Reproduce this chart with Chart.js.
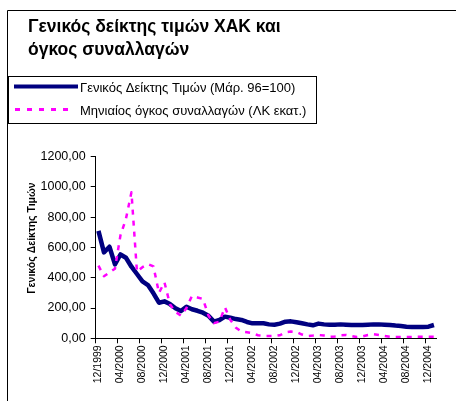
<!DOCTYPE html>
<html>
<head>
<meta charset="utf-8">
<script src="https://cdn.jsdelivr.net/npm/chart.js@4/dist/chart.umd.min.js"></script>
<style>
  body { margin: 0; background: #fff; }
  #chart { display: block; }
</style>
</head>
<body>
<canvas id="chart" width="456" height="401"></canvas>
<script>
const months = [
    '12/1999',
    '01/2000', '02/2000', '03/2000', '04/2000', '05/2000', '06/2000', '07/2000', '08/2000', '09/2000', '10/2000', '11/2000', '12/2000',
    '01/2001', '02/2001', '03/2001', '04/2001', '05/2001', '06/2001', '07/2001', '08/2001', '09/2001', '10/2001', '11/2001', '12/2001',
    '01/2002', '02/2002', '03/2002', '04/2002', '05/2002', '06/2002', '07/2002', '08/2002', '09/2002', '10/2002', '11/2002', '12/2002',
    '01/2003', '02/2003', '03/2003', '04/2003', '05/2003', '06/2003', '07/2003', '08/2003', '09/2003', '10/2003', '11/2003', '12/2003',
    '01/2004', '02/2004', '03/2004', '04/2004', '05/2004', '06/2004', '07/2004', '08/2004', '09/2004', '10/2004', '11/2004', '12/2004',
    '01/2005'
];

// Γενικός Δείκτης Τιμών (Μάρ. 96=100)
const priceIndex = [
    710, 568, 605, 488, 554, 532, 473, 425, 376, 352,
    297, 235, 244, 226, 198, 180, 209, 192, 182, 169,
    149, 110, 121, 143, 136, 127, 121, 108, 99, 99,
    99, 92, 90, 97, 110, 112, 106, 99, 92, 86,
    97, 92, 90, 90, 92, 90, 88, 88, 88, 90,
    92, 92, 90, 88, 84, 81, 77, 75, 75, 75,
    77, 88
];

// Μηνιαίος όγκος συναλλαγών (ΛΚ εκατ.)
const volume = [
    480, 410, 435, 460, 680, 790, 965, 440, 470, 490,
    475, 300, 370, 225, 175, 150, 200, 280, 270, 260,
    150, 100, 110, 205, 120, 70, 45, 40, 35, 20,
    15, 15, 15, 20, 40, 45, 42, 25, 15, 18,
    22, 18, 10, 12, 20, 22, 15, 8, 12, 22,
    28, 22, 15, 10, 8, 8, 8, 8, 10, 10,
    10, 10
];

const titleLines = ['Γενικός δείκτης τιμών ΧΑΚ και', 'όγκος συναλλαγών'];
const seriesNames = ['Γενικός Δείκτης Τιμών (Μάρ. 96=100)', 'Μηνιαίος όγκος συναλλαγών (ΛΚ εκατ.)'];
const yAxisTitle = 'Γενικός Δείκτης Τιμών';

const FONT = 'Arial, "Liberation Sans", sans-serif';
const NAVY = '#000080';
const MAGENTA = '#FF00FF';

Chart.defaults.font.family = FONT;
Chart.defaults.color = '#000';

// frame, title, legend box and y axis title
const decorations = {
    id: 'decorations',
    afterDraw(chart) {
        const ctx = chart.ctx;
        ctx.save();
        ctx.strokeStyle = '#000';
        ctx.lineWidth = 1;
        ctx.beginPath();
        ctx.moveTo(7.5, 401);
        ctx.lineTo(7.5, 10.5);
        ctx.lineTo(456, 10.5);
        ctx.stroke();

        ctx.fillStyle = '#000';
        ctx.font = 'bold 17.5px ' + FONT;
        ctx.textBaseline = 'alphabetic';
        ctx.fillText(titleLines[0], 28, 32);
        ctx.fillText(titleLines[1], 28, 55);

        // legend
        ctx.strokeRect(8.5, 76.5, 308, 47);
        ctx.lineCap = 'butt';
        ctx.strokeStyle = NAVY;
        ctx.lineWidth = 4;
        ctx.beginPath();
        ctx.moveTo(14, 86.5);
        ctx.lineTo(78, 86.5);
        ctx.stroke();
        ctx.strokeStyle = MAGENTA;
        ctx.lineWidth = 3;
        ctx.setLineDash([5, 7]);
        ctx.beginPath();
        ctx.moveTo(15, 109.5);
        ctx.lineTo(72, 109.5);
        ctx.stroke();
        ctx.setLineDash([]);
        ctx.font = '13px ' + FONT;
        ctx.textBaseline = 'middle';
        ctx.fillText(seriesNames[0], 80, 88);
        ctx.fillText(seriesNames[1], 80, 111);

        // y axis title
        ctx.translate(32, 238);
        ctx.rotate(-Math.PI / 2);
        ctx.font = 'bold 10.5px ' + FONT;
        ctx.textAlign = 'center';
        ctx.fillText(yAxisTitle, 0, 0);
        ctx.restore();
    }
};

new Chart(document.getElementById('chart'), {
    type: 'line',
    data: {
        labels: months,
        datasets: [{
            label: seriesNames[0],
            data: priceIndex,
            borderColor: NAVY,
            borderWidth: 4.5,
            borderJoinStyle: 'round',
            pointRadius: 0,
            tension: 0,
            order: 1
        }, {
            label: seriesNames[1],
            data: volume,
            borderColor: MAGENTA,
            borderWidth: 2.5,
            borderDash: [5, 6],
            borderJoinStyle: 'round',
            pointRadius: 0,
            tension: 0,
            order: 0
        }]
    },
    options: {
        responsive: false,
        animation: false,
        layout: { padding: { top: 156.7, right: 19.3, left: 0, bottom: 0 } },
        plugins: {
            legend: { display: false },
            tooltip: { enabled: false }
        },
        scales: {
            x: {
                offset: true,
                afterFit(scale) { scale.height = 401 - 338.3; },
                grid: {
                    offset: true,
                    drawOnChartArea: false,
                    tickLength: 5,
                    color: (c) => (c.index % 4 === 0 ? '#000' : 'rgba(0,0,0,0)')
                },
                border: { color: '#000', width: 1 },
                ticks: {
                    autoSkip: false,
                    maxRotation: 90,
                    minRotation: 90,
                    padding: 2,
                    font: { size: 10.5 },
                    callback: (v, i) => (i % 4 === 0 ? months[i] : '')
                }
            },
            y: {
                min: 0,
                max: 1200,
                afterFit(scale) { scale.width = 95.7; },
                grid: { drawOnChartArea: false, tickLength: 5, color: '#000' },
                border: { color: '#000', width: 1 },
                ticks: {
                    stepSize: 200,
                    padding: 5,
                    font: { size: 12.5 },
                    callback: (v) => v.toFixed(2).replace('.', ',')
                }
            }
        }
    },
    plugins: [decorations]
});
</script>
</body>
</html>
